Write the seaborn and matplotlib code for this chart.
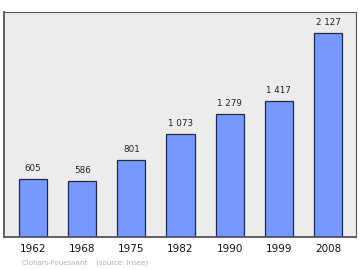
import matplotlib
matplotlib.use("Agg")
import matplotlib.pyplot as plt
import seaborn as sns
import pandas as pd

years = ["1962", "1968", "1975", "1982", "1990", "1999", "2008"]
population = [605, 586, 801, 1073, 1279, 1417, 2127]
labels = ["605", "586", "801", "1 073", "1 279", "1 417", "2 127"]

df = pd.DataFrame({"year": years, "pop": population})

sns.set_theme(style="white")
plt.rcParams['font.family'] = ['DejaVu Sans']

fig = plt.figure(figsize=(3.6, 2.7), dpi=100)
ax = fig.add_axes([4/360, 1 - 237/270, 352/360, 225/270])
ax.set_facecolor("#ececec")

sns.barplot(data=df, x="year", y="pop", ax=ax, color="#7799ff",
            saturation=1, width=0.57, edgecolor="#1a2a55", linewidth=0.9)

for i, (v, t) in enumerate(zip(population, labels)):
    ax.text(i, v + 2346 * 0.026, t, ha="center", va="bottom", fontsize=6.3, color="#222222")

ax.set_xlim(-0.59, 6.57)
ax.set_ylim(0, 2346)
ax.set_yticks([])
ax.set_xlabel("")
ax.set_ylabel("")
ax.tick_params(axis="x", length=0, pad=5, labelsize=7.5, labelcolor="#111111")
for side in ["left", "bottom"]:
    ax.spines[side].set_color("#555555")
    ax.spines[side].set_linewidth(1.3)
for side in ["top", "right"]:
    ax.spines[side].set_color("#555555")
    ax.spines[side].set_linewidth(0.8)

fig.text(22/360, 1 - 263/270, "Clohars-Fouesnant    (source: Insee)", fontsize=5,
         color="#b0b0b0", va="center", ha="left")

fig.savefig("out.png", dpi=100)
